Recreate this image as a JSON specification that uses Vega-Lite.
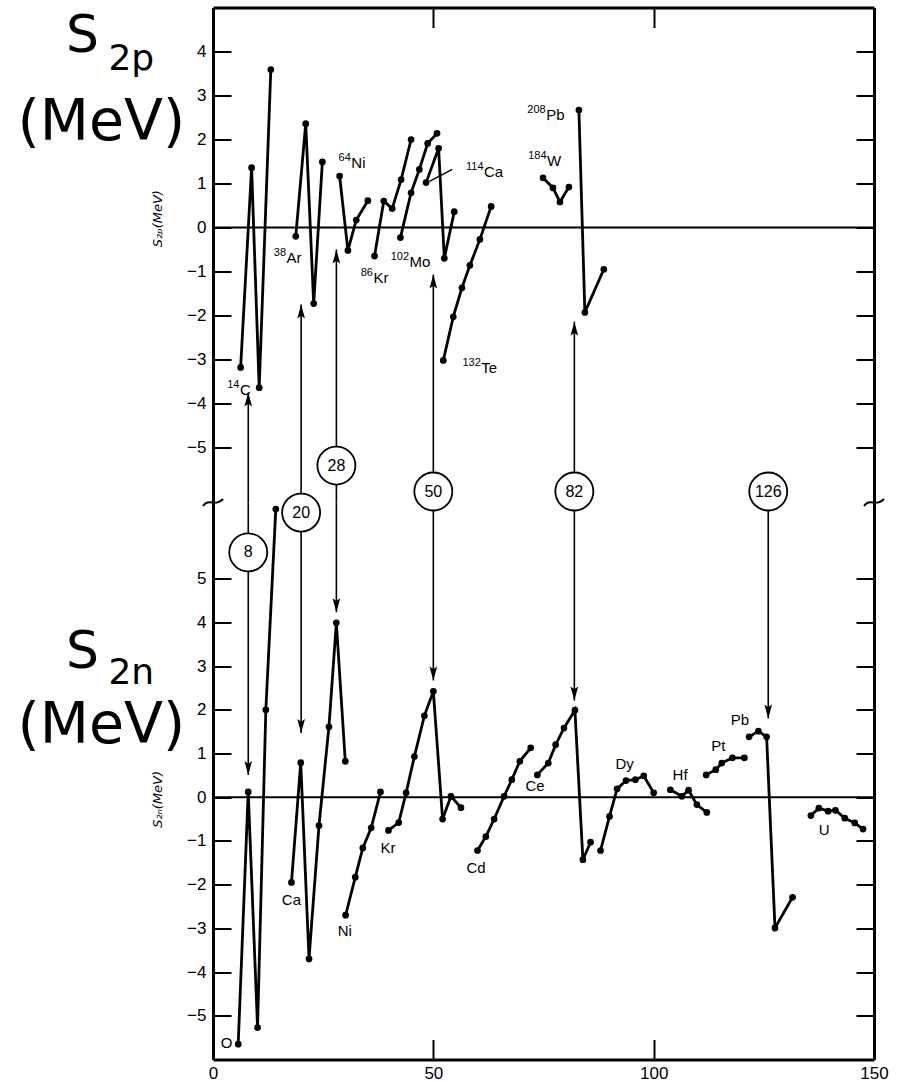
{
  "$schema": "https://vega.github.io/schema/vega-lite/v6.json",
  "autosize": {"type": "pad"},
  "padding": {"left": 17, "top": 6.5, "right": 10, "bottom": 0},
  "background": "white",
  "bounds": "flush",
  "spacing": 0,
  "config": {
    "view": {"stroke": null},
    "axis": {"domainColor": "black", "domainWidth": 3, "tickColor": "black", "tickWidth": 2, "tickSize": -18, "labelFont": "Liberation Sans", "labelFontSize": 17, "labelColor": "black", "labelPadding": 25, "grid": false, "title": null, "labelFlush": false, "labelOverlap": false},
    "text": {"font": "Liberation Sans", "color": "black"}
  },
  "datasets": {
    "top": [
      {"s": "14C", "x": 6.27, "y": -3.18}, {"s": "14C", "x": 8.76, "y": 1.36}, {"s": "14C", "x": 10.48, "y": -3.64}, {"s": "14C", "x": 13.12, "y": 3.59},
      {"s": "38Ar", "x": 18.78, "y": -0.2}, {"s": "38Ar", "x": 21.04, "y": 2.36}, {"s": "38Ar", "x": 22.85, "y": -1.73}, {"s": "38Ar", "x": 24.82, "y": 1.49},
      {"s": "64Ni", "x": 28.73, "y": 1.17}, {"s": "64Ni", "x": 30.61, "y": -0.52}, {"s": "64Ni", "x": 32.51, "y": 0.17}, {"s": "64Ni", "x": 35.14, "y": 0.61},
      {"s": "86Kr", "x": 36.65, "y": -0.65}, {"s": "86Kr", "x": 38.76, "y": 0.6}, {"s": "86Kr", "x": 40.66, "y": 0.43}, {"s": "86Kr", "x": 42.69, "y": 1.09}, {"s": "86Kr", "x": 44.95, "y": 2.0},
      {"s": "102Mo", "x": 42.53, "y": -0.23}, {"s": "102Mo", "x": 44.95, "y": 0.79}, {"s": "102Mo", "x": 46.83, "y": 1.32}, {"s": "102Mo", "x": 48.71, "y": 1.91}, {"s": "102Mo", "x": 50.84, "y": 2.14},
      {"s": "114Ca", "x": 48.35, "y": 1.02}, {"s": "114Ca", "x": 51.2, "y": 1.8}, {"s": "114Ca", "x": 52.49, "y": -0.7}, {"s": "114Ca", "x": 54.75, "y": 0.36},
      {"s": "132Te", "x": 52.26, "y": -3.02}, {"s": "132Te", "x": 54.52, "y": -2.03}, {"s": "132Te", "x": 56.49, "y": -1.37}, {"s": "132Te", "x": 58.3, "y": -0.86}, {"s": "132Te", "x": 60.57, "y": -0.27}, {"s": "132Te", "x": 63.12, "y": 0.48},
      {"s": "184W", "x": 74.89, "y": 1.13}, {"s": "184W", "x": 77.15, "y": 0.9}, {"s": "184W", "x": 78.73, "y": 0.58}, {"s": "184W", "x": 80.77, "y": 0.92},
      {"s": "208Pb", "x": 83.03, "y": 2.67}, {"s": "208Pb", "x": 84.39, "y": -1.93}, {"s": "208Pb", "x": 88.69, "y": -0.95}
    ],
    "bot": [
      {"s": "O", "x": 5.72, "y": -5.65}, {"s": "O", "x": 7.99, "y": 0.12}, {"s": "O", "x": 10.11, "y": -5.27}, {"s": "O", "x": 11.99, "y": 2.0}, {"s": "O", "x": 14.25, "y": 6.59},
      {"s": "Ca", "x": 17.81, "y": -1.95}, {"s": "Ca", "x": 19.91, "y": 0.79}, {"s": "Ca", "x": 21.79, "y": -3.7}, {"s": "Ca", "x": 24.05, "y": -0.65}, {"s": "Ca", "x": 26.31, "y": 1.61}, {"s": "Ca", "x": 27.99, "y": 3.99}, {"s": "Ca", "x": 30.02, "y": 0.82},
      {"s": "Ni", "x": 30.09, "y": -2.7}, {"s": "Ni", "x": 32.29, "y": -1.83}, {"s": "Ni", "x": 34.0, "y": -1.16}, {"s": "Ni", "x": 35.9, "y": -0.7}, {"s": "Ni", "x": 38.01, "y": 0.12},
      {"s": "Kr", "x": 39.82, "y": -0.76}, {"s": "Kr", "x": 42.15, "y": -0.58}, {"s": "Kr", "x": 43.82, "y": 0.1}, {"s": "Kr", "x": 45.7, "y": 0.93}, {"s": "Kr", "x": 47.96, "y": 1.86}, {"s": "Kr", "x": 50.0, "y": 2.42}, {"s": "Kr", "x": 52.1, "y": -0.5}, {"s": "Kr", "x": 54.0, "y": 0.02}, {"s": "Kr", "x": 56.27, "y": -0.24},
      {"s": "Cd", "x": 60.02, "y": -1.22}, {"s": "Cd", "x": 61.92, "y": -0.9}, {"s": "Cd", "x": 63.8, "y": -0.5}, {"s": "Cd", "x": 66.06, "y": 0.02}, {"s": "Cd", "x": 67.8, "y": 0.4}, {"s": "Cd", "x": 69.62, "y": 0.82}, {"s": "Cd", "x": 72.1, "y": 1.13},
      {"s": "Ce", "x": 73.6, "y": 0.51}, {"s": "Ce", "x": 76.09, "y": 0.78}, {"s": "Ce", "x": 77.76, "y": 1.2}, {"s": "Ce", "x": 79.64, "y": 1.58}, {"s": "Ce", "x": 82.13, "y": 1.99}, {"s": "Ce", "x": 83.94, "y": -1.43}, {"s": "Ce", "x": 85.68, "y": -1.03},
      {"s": "Dy", "x": 87.94, "y": -1.22}, {"s": "Dy", "x": 89.98, "y": -0.44}, {"s": "Dy", "x": 91.7, "y": 0.19}, {"s": "Dy", "x": 93.73, "y": 0.38}, {"s": "Dy", "x": 95.86, "y": 0.4}, {"s": "Dy", "x": 97.74, "y": 0.49}, {"s": "Dy", "x": 100.0, "y": 0.1},
      {"s": "Hf", "x": 103.78, "y": 0.17}, {"s": "Hf", "x": 106.4, "y": 0.02}, {"s": "Hf", "x": 107.92, "y": 0.16}, {"s": "Hf", "x": 109.8, "y": -0.17}, {"s": "Hf", "x": 112.06, "y": -0.35},
      {"s": "Pt", "x": 111.92, "y": 0.51}, {"s": "Pt", "x": 114.1, "y": 0.63}, {"s": "Pt", "x": 115.45, "y": 0.78}, {"s": "Pt", "x": 117.87, "y": 0.9}, {"s": "Pt", "x": 120.59, "y": 0.9},
      {"s": "Pb", "x": 121.65, "y": 1.38}, {"s": "Pb", "x": 123.76, "y": 1.51}, {"s": "Pb", "x": 125.63, "y": 1.38}, {"s": "Pb", "x": 127.53, "y": -2.99}, {"s": "Pb", "x": 131.52, "y": -2.29},
      {"s": "U", "x": 135.68, "y": -0.42}, {"s": "U", "x": 137.49, "y": -0.25}, {"s": "U", "x": 139.59, "y": -0.32}, {"s": "U", "x": 141.24, "y": -0.3}, {"s": "U", "x": 143.37, "y": -0.48}, {"s": "U", "x": 145.63, "y": -0.59}, {"s": "U", "x": 147.51, "y": -0.73}
    ],
    "topLabels": [
      {"mass": "14", "el": "C", "x": 6.1, "y": -3.8},
      {"mass": "38", "el": "Ar", "x": 16.7, "y": -0.8},
      {"mass": "64", "el": "Ni", "x": 31.4, "y": 1.36},
      {"mass": "86", "el": "Kr", "x": 36.4, "y": -1.25},
      {"mass": "102", "el": "Mo", "x": 44.6, "y": -0.89},
      {"mass": "114", "el": "Ca", "x": 61.5, "y": 1.14},
      {"mass": "132", "el": "Te", "x": 60.9, "y": -3.3},
      {"mass": "184", "el": "W", "x": 75.8, "y": 1.39},
      {"mass": "208", "el": "Pb", "x": 75.6, "y": 2.45}
    ],
    "botLabels": [
      {"el": "O", "x": 3.1, "y": -5.62}, {"el": "Ca", "x": 17.8, "y": -2.35}, {"el": "Ni", "x": 29.9, "y": -3.07},
      {"el": "Kr", "x": 39.7, "y": -1.16}, {"el": "Cd", "x": 59.7, "y": -1.62}, {"el": "Ce", "x": 73.1, "y": 0.25},
      {"el": "Dy", "x": 93.4, "y": 0.77}, {"el": "Hf", "x": 106.0, "y": 0.51}, {"el": "Pt", "x": 114.7, "y": 1.16},
      {"el": "Pb", "x": 119.6, "y": 1.77}, {"el": "U", "x": 138.7, "y": -0.74}
    ],
    "topArrows": [
      {"n": 8, "x": 8, "tip": -3.75, "base": -6.25},
      {"n": 20, "x": 20, "tip": -1.75, "base": -6.25},
      {"n": 28, "x": 28, "tip": -0.5, "base": -6.25},
      {"n": 50, "x": 50, "tip": -1.07, "base": -6.25},
      {"n": 82, "x": 82, "tip": -2.14, "base": -6.25}
    ],
    "botArrows": [
      {"n": 8, "x": 8, "tip": 0.51, "base": 6.74},
      {"n": 20, "x": 20, "tip": 1.47, "base": 6.74},
      {"n": 28, "x": 28, "tip": 4.23, "base": 6.74},
      {"n": 50, "x": 50, "tip": 2.67, "base": 6.55},
      {"n": 82, "x": 82, "tip": 2.21, "base": 6.55},
      {"n": 126, "x": 126, "tip": 1.8, "base": 6.55}
    ],
    "topCircles": [
      {"n": "28", "x": 28, "y": -5.41},
      {"n": "50", "x": 50, "y": -6.0},
      {"n": "82", "x": 82, "y": -6.0},
      {"n": "126", "x": 126, "y": -6.0}
    ],
    "botCircles": [
      {"n": "8", "x": 8, "y": 5.6},
      {"n": "20", "x": 20, "y": 6.51}
    ],
    "topBig": [
      {"t": "S", "k": "a", "x": -29.64, "y": 3.98},
      {"t": "2p", "k": "b", "x": -18.55, "y": 3.59}
    ],
    "topMeV": [
      {"t": "(MeV)", "x": -44.34, "y": 2.0}
    ],
    "botBig": [
      {"t": "S", "k": "a", "x": -29.64, "y": 2.96},
      {"t": "2n", "k": "b", "x": -18.55, "y": 2.6}
    ],
    "botMeV": [
      {"t": "(MeV)", "x": -44.34, "y": 1.25}
    ]
  },
  "vconcat": [
    {
      "width": 661,
      "height": 495,
      "resolve": {"axis": {"x": "independent", "y": "independent"}},
      "layer": [
        {
          "data": {"values": [{"y": 0}]},
          "mark": {"type": "rule", "color": "black", "strokeWidth": 2},
          "encoding": {
            "y": {"field": "y", "type": "quantitative", "scale": {"domain": [-6.25, 5], "nice": false, "zero": false},
              "axis": {"orient": "left", "values": [-5, -4, -3, -2, -1, 0, 1, 2, 3, 4]}}
          }
        },
        {
          "data": {"name": "top"},
          "mark": {"type": "line", "color": "black", "strokeWidth": 2.8},
          "encoding": {
            "x": {"field": "x", "type": "quantitative", "scale": {"domain": [0, 150], "nice": false, "zero": false},
              "axis": {"orient": "top", "values": [50, 100], "labels": false, "tickSize": -20}},
            "y": {"field": "y", "type": "quantitative", "scale": {"domain": [-6.25, 5], "nice": false, "zero": false},
              "axis": {"orient": "right", "values": [-5, -4, -3, -2, -1, 0, 1, 2, 3, 4], "labels": false}},
            "detail": {"field": "s", "type": "nominal"}
          }
        },
        {
          "data": {"name": "top"},
          "mark": {"type": "point", "filled": true, "color": "black", "size": 45, "opacity": 1},
          "encoding": {
            "x": {"field": "x", "type": "quantitative", "scale": {"domain": [0, 150], "nice": false, "zero": false}, "axis": null},
            "y": {"field": "y", "type": "quantitative", "scale": {"domain": [-6.25, 5], "nice": false, "zero": false}, "axis": null}
          }
        },
        {
          "data": {"name": "topArrows"},
          "mark": {"type": "rule", "color": "black", "strokeWidth": 1.6},
          "encoding": {
            "x": {"field": "x", "type": "quantitative", "scale": {"domain": [0, 150], "nice": false, "zero": false}, "axis": null},
            "y": {"field": "base", "type": "quantitative", "scale": {"domain": [-6.25, 5], "nice": false, "zero": false}, "axis": null},
            "y2": {"field": "tip"}
          }
        },
        {
          "data": {"name": "topArrows"},
          "mark": {"type": "point", "shape": "M0,0L-0.55,2L0,1.6L0.55,2Z", "filled": true, "color": "black", "size": 196, "opacity": 1},
          "encoding": {
            "x": {"field": "x", "type": "quantitative", "scale": {"domain": [0, 150], "nice": false, "zero": false}, "axis": null},
            "y": {"field": "tip", "type": "quantitative", "scale": {"domain": [-6.25, 5], "nice": false, "zero": false}, "axis": null}
          }
        },
        {
          "data": {"name": "topCircles"},
          "mark": {"type": "point", "shape": "circle", "filled": true, "fill": "white", "stroke": "black", "strokeWidth": 1.8, "size": 1444, "opacity": 1},
          "encoding": {
            "x": {"field": "x", "type": "quantitative", "scale": {"domain": [0, 150], "nice": false, "zero": false}, "axis": null},
            "y": {"field": "y", "type": "quantitative", "scale": {"domain": [-6.25, 5], "nice": false, "zero": false}, "axis": null}
          }
        },
        {
          "data": {"name": "topCircles"},
          "mark": {"type": "text", "fontSize": 16, "align": "center", "baseline": "middle"},
          "encoding": {
            "x": {"field": "x", "type": "quantitative", "scale": {"domain": [0, 150], "nice": false, "zero": false}, "axis": null},
            "y": {"field": "y", "type": "quantitative", "scale": {"domain": [-6.25, 5], "nice": false, "zero": false}, "axis": null},
            "text": {"field": "n"}
          }
        },
        {
          "data": {"values": [{"x": 54.3, "y": 1.32, "x2": 49.1, "y2": 1.05}]},
          "mark": {"type": "rule", "color": "black", "strokeWidth": 1.5},
          "encoding": {
            "x": {"field": "x", "type": "quantitative", "scale": {"domain": [0, 150], "nice": false, "zero": false}, "axis": null},
            "y": {"field": "y", "type": "quantitative", "scale": {"domain": [-6.25, 5], "nice": false, "zero": false}, "axis": null},
            "x2": {"field": "x2"},
            "y2": {"field": "y2"}
          }
        },
        {
          "data": {"name": "topLabels"},
          "mark": {"type": "text", "fontSize": 15, "align": "left", "baseline": "alphabetic"},
          "encoding": {
            "x": {"field": "x", "type": "quantitative", "scale": {"domain": [0, 150], "nice": false, "zero": false}, "axis": null},
            "y": {"field": "y", "type": "quantitative", "scale": {"domain": [-6.25, 5], "nice": false, "zero": false}, "axis": null},
            "text": {"field": "el"}
          }
        },
        {
          "data": {"name": "topLabels"},
          "mark": {"type": "text", "fontSize": 11, "align": "right", "baseline": "alphabetic", "dy": -7, "dx": -0.5},
          "encoding": {
            "x": {"field": "x", "type": "quantitative", "scale": {"domain": [0, 150], "nice": false, "zero": false}, "axis": null},
            "y": {"field": "y", "type": "quantitative", "scale": {"domain": [-6.25, 5], "nice": false, "zero": false}, "axis": null},
            "text": {"field": "mass"}
          }
        },
        {
          "data": {"name": "topBig"},
          "mark": {"type": "text", "font": "DejaVu Sans", "align": "center", "baseline": "alphabetic"},
          "encoding": {
            "x": {"field": "x", "type": "quantitative", "scale": {"domain": [0, 150], "nice": false, "zero": false}, "axis": null},
            "y": {"field": "y", "type": "quantitative", "scale": {"domain": [-6.25, 5], "nice": false, "zero": false}, "axis": null},
            "text": {"field": "t"},
            "size": {"field": "k", "type": "nominal", "scale": {"domain": ["a", "b"], "range": [52, 36]}, "legend": null}
          }
        },
        {
          "data": {"name": "topMeV"},
          "mark": {"type": "text", "font": "DejaVu Sans", "fontSize": 57, "align": "left", "baseline": "alphabetic"},
          "encoding": {
            "x": {"field": "x", "type": "quantitative", "scale": {"domain": [0, 150], "nice": false, "zero": false}, "axis": null},
            "y": {"field": "y", "type": "quantitative", "scale": {"domain": [-6.25, 5], "nice": false, "zero": false}, "axis": null},
            "text": {"field": "t"}
          }
        },
        {
          "data": {"values": [{"t": "S₂ₚ(MeV)", "x": -12.5, "y": 0.2}]},
          "mark": {"type": "text", "font": "DejaVu Sans", "fontSize": 13, "fontStyle": "italic", "angle": 270, "align": "center", "baseline": "middle"},
          "encoding": {
            "x": {"field": "x", "type": "quantitative", "scale": {"domain": [0, 150], "nice": false, "zero": false}, "axis": null},
            "y": {"field": "y", "type": "quantitative", "scale": {"domain": [-6.25, 5], "nice": false, "zero": false}, "axis": null},
            "text": {"field": "t"}
          }
        },
        {
          "data": {"values": [{"x": 0, "y": -6.25}, {"x": 150, "y": -6.25}]},
          "mark": {"type": "point", "shape": "M-1,0.35C-0.4,-0.5 0.2,0.5 1,-0.35", "filled": false, "stroke": "black", "strokeWidth": 2, "size": 400, "opacity": 1},
          "encoding": {
            "x": {"field": "x", "type": "quantitative", "scale": {"domain": [0, 150], "nice": false, "zero": false}, "axis": null},
            "y": {"field": "y", "type": "quantitative", "scale": {"domain": [-6.25, 5], "nice": false, "zero": false}, "axis": null}
          }
        }
      ]
    },
    {
      "width": 661,
      "height": 557,
      "resolve": {"axis": {"x": "independent", "y": "independent"}},
      "layer": [
        {
          "data": {"values": [{"y": 0}]},
          "mark": {"type": "rule", "color": "black", "strokeWidth": 2},
          "encoding": {
            "y": {"field": "y", "type": "quantitative", "scale": {"domain": [-6, 6.74], "nice": false, "zero": false},
              "axis": {"orient": "left", "values": [-5, -4, -3, -2, -1, 0, 1, 2, 3, 4, 5]}}
          }
        },
        {
          "data": {"name": "bot"},
          "mark": {"type": "line", "color": "black", "strokeWidth": 2.8},
          "encoding": {
            "x": {"field": "x", "type": "quantitative", "scale": {"domain": [0, 150], "nice": false, "zero": false},
              "axis": {"orient": "bottom", "values": [0, 50, 100, 150], "tickSize": -20, "labelPadding": 26}},
            "y": {"field": "y", "type": "quantitative", "scale": {"domain": [-6, 6.74], "nice": false, "zero": false},
              "axis": {"orient": "right", "values": [-5, -4, -3, -2, -1, 0, 1, 2, 3, 4, 5], "labels": false}},
            "detail": {"field": "s", "type": "nominal"}
          }
        },
        {
          "data": {"name": "bot"},
          "mark": {"type": "point", "filled": true, "color": "black", "size": 45, "opacity": 1},
          "encoding": {
            "x": {"field": "x", "type": "quantitative", "scale": {"domain": [0, 150], "nice": false, "zero": false}, "axis": null},
            "y": {"field": "y", "type": "quantitative", "scale": {"domain": [-6, 6.74], "nice": false, "zero": false}, "axis": null}
          }
        },
        {
          "data": {"name": "botArrows"},
          "mark": {"type": "rule", "color": "black", "strokeWidth": 1.6},
          "encoding": {
            "x": {"field": "x", "type": "quantitative", "scale": {"domain": [0, 150], "nice": false, "zero": false}, "axis": null},
            "y": {"field": "base", "type": "quantitative", "scale": {"domain": [-6, 6.74], "nice": false, "zero": false}, "axis": null},
            "y2": {"field": "tip"}
          }
        },
        {
          "data": {"name": "botArrows"},
          "mark": {"type": "point", "shape": "M0,0L-0.55,-2L0,-1.6L0.55,-2Z", "filled": true, "color": "black", "size": 196, "opacity": 1},
          "encoding": {
            "x": {"field": "x", "type": "quantitative", "scale": {"domain": [0, 150], "nice": false, "zero": false}, "axis": null},
            "y": {"field": "tip", "type": "quantitative", "scale": {"domain": [-6, 6.74], "nice": false, "zero": false}, "axis": null}
          }
        },
        {
          "data": {"name": "botCircles"},
          "mark": {"type": "point", "shape": "circle", "filled": true, "fill": "white", "stroke": "black", "strokeWidth": 1.8, "size": 1444, "opacity": 1},
          "encoding": {
            "x": {"field": "x", "type": "quantitative", "scale": {"domain": [0, 150], "nice": false, "zero": false}, "axis": null},
            "y": {"field": "y", "type": "quantitative", "scale": {"domain": [-6, 6.74], "nice": false, "zero": false}, "axis": null}
          }
        },
        {
          "data": {"name": "botCircles"},
          "mark": {"type": "text", "fontSize": 16, "align": "center", "baseline": "middle"},
          "encoding": {
            "x": {"field": "x", "type": "quantitative", "scale": {"domain": [0, 150], "nice": false, "zero": false}, "axis": null},
            "y": {"field": "y", "type": "quantitative", "scale": {"domain": [-6, 6.74], "nice": false, "zero": false}, "axis": null},
            "text": {"field": "n"}
          }
        },
        {
          "data": {"name": "botLabels"},
          "mark": {"type": "text", "fontSize": 15, "align": "center", "baseline": "middle"},
          "encoding": {
            "x": {"field": "x", "type": "quantitative", "scale": {"domain": [0, 150], "nice": false, "zero": false}, "axis": null},
            "y": {"field": "y", "type": "quantitative", "scale": {"domain": [-6, 6.74], "nice": false, "zero": false}, "axis": null},
            "text": {"field": "el"}
          }
        },
        {
          "data": {"name": "botBig"},
          "mark": {"type": "text", "font": "DejaVu Sans", "align": "center", "baseline": "alphabetic"},
          "encoding": {
            "x": {"field": "x", "type": "quantitative", "scale": {"domain": [0, 150], "nice": false, "zero": false}, "axis": null},
            "y": {"field": "y", "type": "quantitative", "scale": {"domain": [-6, 6.74], "nice": false, "zero": false}, "axis": null},
            "text": {"field": "t"},
            "size": {"field": "k", "type": "nominal", "scale": {"domain": ["a", "b"], "range": [52, 36]}, "legend": null}
          }
        },
        {
          "data": {"name": "botMeV"},
          "mark": {"type": "text", "font": "DejaVu Sans", "fontSize": 57, "align": "left", "baseline": "alphabetic"},
          "encoding": {
            "x": {"field": "x", "type": "quantitative", "scale": {"domain": [0, 150], "nice": false, "zero": false}, "axis": null},
            "y": {"field": "y", "type": "quantitative", "scale": {"domain": [-6, 6.74], "nice": false, "zero": false}, "axis": null},
            "text": {"field": "t"}
          }
        },
        {
          "data": {"values": [{"t": "S₂ₙ(MeV)", "x": -12.5, "y": -0.05}]},
          "mark": {"type": "text", "font": "DejaVu Sans", "fontSize": 13, "fontStyle": "italic", "angle": 270, "align": "center", "baseline": "middle"},
          "encoding": {
            "x": {"field": "x", "type": "quantitative", "scale": {"domain": [0, 150], "nice": false, "zero": false}, "axis": null},
            "y": {"field": "y", "type": "quantitative", "scale": {"domain": [-6, 6.74], "nice": false, "zero": false}, "axis": null},
            "text": {"field": "t"}
          }
        }
      ]
    }
  ]
}
